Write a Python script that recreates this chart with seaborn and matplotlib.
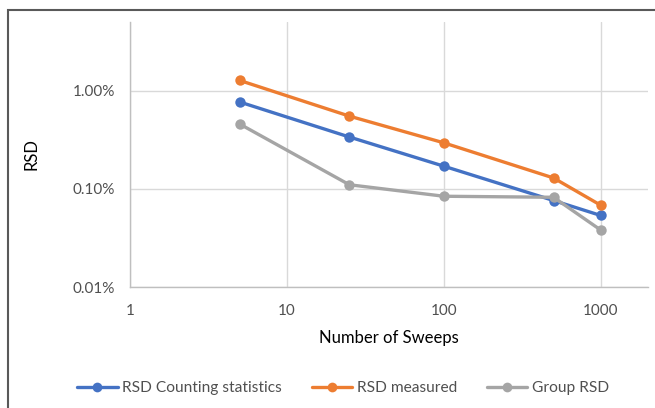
import matplotlib
matplotlib.use("Agg")
import matplotlib.pyplot as plt
import matplotlib.ticker as mticker
from matplotlib.patches import Rectangle
import seaborn as sns
import pandas as pd

sweeps = [5, 25, 100, 500, 1000]
rsd_counting = [0.00766, 0.00337, 0.00170, 0.00076, 0.000535]
rsd_measured = [0.0127, 0.0055, 0.00294, 0.00129, 0.00068]
group_rsd = [0.00457, 0.00110, 0.00084, 0.00082, 0.00038]
series_names = ["RSD Counting statistics", "RSD measured", "Group RSD"]
colors = ["#4472C4", "#ED7D31", "#A5A5A5"]

rows = []
for name, vals in zip(series_names, [rsd_counting, rsd_measured, group_rsd]):
    for x, v in zip(sweeps, vals):
        rows.append({"Sweeps": x, "RSD": v, "Series": name})
df = pd.DataFrame(rows)

sns.set_theme(style="white")
plt.rcParams["font.family"] = ["Lato", "DejaVu Sans"]

fig = plt.figure(figsize=(6.55, 4.08), dpi=100)
ax = fig.add_axes([130/655, 1-287/408, (648-130)/655, (287-22)/408])

sns.lineplot(data=df, x="Sweeps", y="RSD", hue="Series", hue_order=series_names,
             palette=colors, marker="o", markersize=7.5, markeredgewidth=0,
             linewidth=2.4, dashes=False, ax=ax, legend=False)

ax.set_xscale("log")
ax.set_yscale("log")
ax.set_xlim(1, 2000)
ax.set_ylim(0.0001, 0.05)

ax.yaxis.set_major_locator(mticker.FixedLocator([0.0001, 0.001, 0.01]))
ax.yaxis.set_major_formatter(mticker.PercentFormatter(xmax=1, decimals=2))
ax.yaxis.set_minor_locator(mticker.LogLocator(base=10, subs=range(2, 10)))
ax.yaxis.set_minor_formatter(mticker.NullFormatter())
ax.xaxis.set_major_locator(mticker.FixedLocator([1, 10, 100, 1000]))
ax.xaxis.set_major_formatter(mticker.FuncFormatter(lambda v, p: f"{int(round(v))}"))
ax.xaxis.set_minor_locator(mticker.LogLocator(base=10, subs=range(2, 10)))
ax.xaxis.set_minor_formatter(mticker.NullFormatter())

ax.grid(True, which="major", color="#D9D9D9", linewidth=1)
ax.set_axisbelow(True)
for s in ["top", "right"]:
    ax.spines[s].set_visible(False)
for s in ["left", "bottom"]:
    ax.spines[s].set_color("#BFBFBF")
    ax.spines[s].set_linewidth(1)

ax.tick_params(axis="both", which="both", direction="out", color="#BFBFBF",
               labelcolor="#505050", labelsize=11)
ax.tick_params(axis="both", which="major", length=5, width=1)
ax.tick_params(axis="both", which="minor", length=4, width=1)
ax.tick_params(axis="x", which="major", pad=7)
ax.tick_params(axis="y", which="major", pad=6)

ax.set_xlabel("Number of Sweeps", fontsize=12, color="#000000", labelpad=9)
ax.set_ylabel("RSD", fontsize=12, color="#000000", labelpad=24)

handles = [plt.Line2D([], [], color=c, marker="o", markersize=7, markeredgewidth=0,
                      linewidth=2.4) for c in colors]
fig.legend(handles, series_names, loc="center", bbox_to_anchor=(343/655, 1-388/408),
           ncol=3, frameon=False, fontsize=11.2, handlelength=2.6, handletextpad=0.3,
           columnspacing=1.9, labelcolor="#505050")

fig.patches.append(Rectangle((8/655, -0.05), 1.1, 1-10/408+0.05, transform=fig.transFigure,
                             fill=False, edgecolor="#595959", linewidth=1.5, zorder=10))

fig.savefig("out.png", dpi=100)
